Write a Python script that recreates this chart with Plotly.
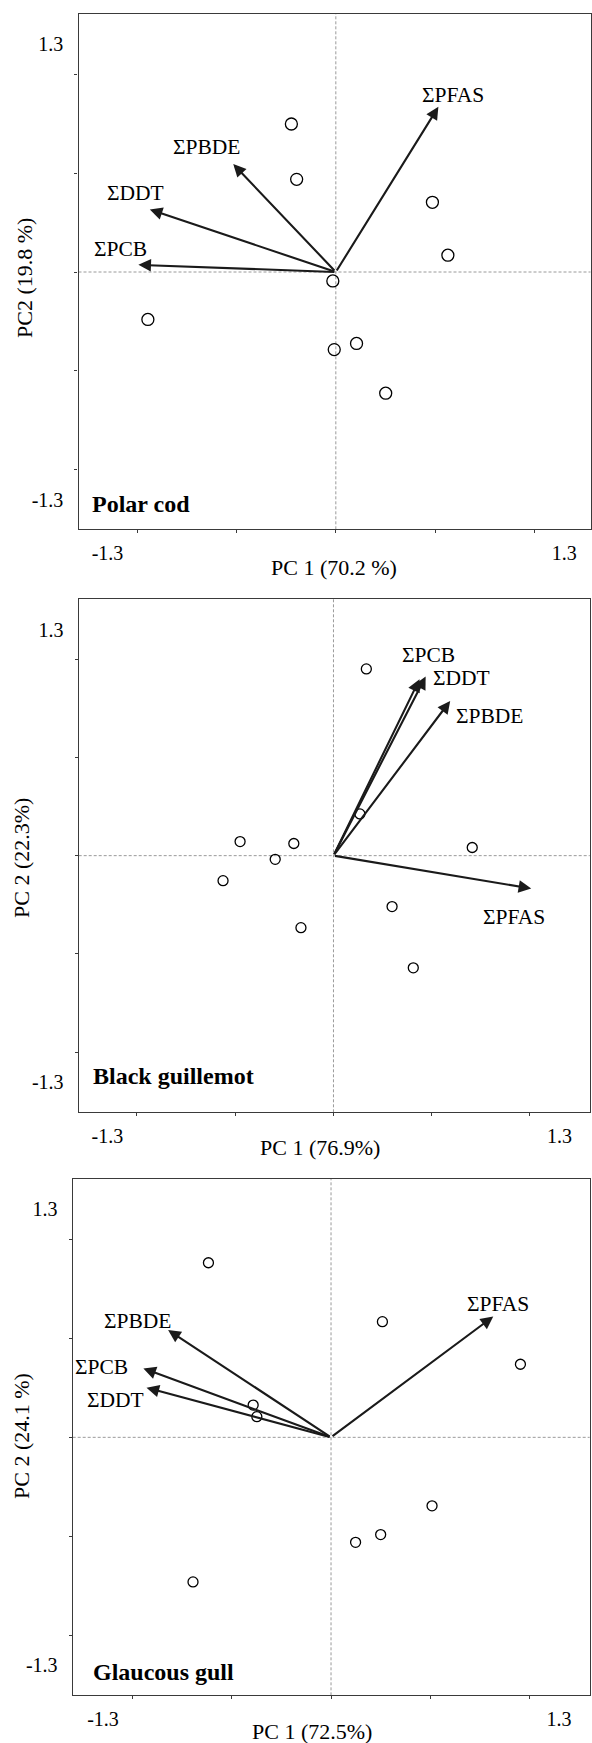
import plotly.graph_objects as go

# ---------------- data ----------------
variables = ["ΣPCB", "ΣDDT", "ΣPBDE", "ΣPFAS"]
tick_labels = ["-1.3", "1.3"]
tick_label_vals = [-1.3, 1.3]
minor_tick_vals = [-1.13, -0.565, 0.0, 0.565, 1.13]

# Polar cod
cod_pc1 = [-0.253, -0.223, 0.550, 0.638, -0.017, -1.070, -0.009, 0.118, 0.284]
cod_pc2 = [0.845, 0.529, 0.398, 0.096, -0.051, -0.271, -0.443, -0.408, -0.692]
cod_load_pc1 = [-1.124, -1.059, -0.584, 0.584]
cod_load_pc2 = [0.041, 0.357, 0.616, 0.943]

# Black guillemot
gui_pc1 = [0.189, 0.152, -0.537, -0.228, -0.335, -0.635, -0.187, 0.798, 0.337, 0.459]
gui_pc2 = [1.074, 0.240, 0.081, 0.070, -0.021, -0.144, -0.414, 0.047, -0.293, -0.645]
gui_load_pc1 = [0.495, 0.530, 0.671, 1.137]
gui_load_pc2 = [1.015, 1.030, 0.890, -0.189]

# Glaucous gull
gull_pc1 = [-0.699, 0.293, 1.080, -0.444, -0.423, 0.576, 0.283, 0.140, -0.787]
gull_pc2 = [0.996, 0.660, 0.417, 0.184, 0.118, -0.391, -0.555, -0.599, -0.825]
gull_load_pc1 = [-1.070, -1.052, -0.929, 0.925]
gull_load_pc2 = [0.393, 0.283, 0.612, 0.689]

panel_names = ["Polar cod", "Black guillemot", "Glaucous gull"]
x_titles = ["PC 1 (70.2 %)", "PC 1 (76.9%)", "PC 1 (72.5%)"]
y_titles = ["PC2 (19.8 %)", "PC 2 (22.3%)", "PC 2 (24.1 %)"]

# ---------------- layout helpers (positions/styles) ----------------
W, H = 592, 1743
FONT = "Liberation Serif"

panels = [
    dict(scores=(cod_pc1, cod_pc2), loads=(cod_load_pc1, cod_load_pc2),
         px=(78.5, 590.5), py=(14, 529.3), xr=(-1.465, 1.450), yr=(-1.469, 1.473),
         msize=12,
         lab={"ΣPCB": (-1.224, 0.129), "ΣDDT": (-1.143, 0.453),
              "ΣPBDE": (-0.735, 0.714), "ΣPFAS": (0.666, 1.010)},
         title_pos=(90, 504), xt_pos=(334, 568), yt_pos=(24, 278)),
    dict(scores=(gui_pc1, gui_pc2), loads=(gui_load_pc1, gui_load_pc2),
         px=(78.7, 589.8), py=(599, 1112.3), xr=(-1.465, 1.474), yr=(-1.476, 1.476),
         msize=10,
         lab={"ΣPCB": (0.546, 1.153), "ΣDDT": (0.734, 1.024),
              "ΣPBDE": (0.895, 0.803), "ΣPFAS": (1.039, -0.355)},
         title_pos=(90.7, 1076), xt_pos=(320, 1147), yt_pos=(21, 858)),
    dict(scores=(gull_pc1, gull_pc2), loads=(gull_load_pc1, gull_load_pc2),
         px=(72.7, 589.7), py=(1179, 1695.3), xr=(-1.473, 1.475), yr=(-1.472, 1.474),
         msize=10,
         lab={"ΣPCB": (-1.311, 0.404), "ΣDDT": (-1.231, 0.213),
              "ΣPBDE": (-1.102, 0.663), "ΣPFAS": (0.953, 0.761)},
         title_pos=(90.7, 1672), xt_pos=(312, 1731), yt_pos=(21, 1436)),
]

fig = go.Figure()
annotations = []
shapes = []

for i, p in enumerate(panels):
    n = "" if i == 0 else str(i + 1)
    xa, ya = "x" + n, "y" + n
    xaxis_key, yaxis_key = "xaxis" + n, "yaxis" + n

    fig.add_trace(go.Scatter(
        x=p["scores"][0], y=p["scores"][1], mode="markers",
        marker=dict(symbol="circle-open", size=p["msize"], color="black",
                    line=dict(width=1.3, color="black")),
        xaxis=xa, yaxis=ya, showlegend=False, hoverinfo="skip"))

    axis_common = dict(
        showgrid=False, zeroline=False, showline=True, mirror=True,
        linecolor="#3a3a3a", linewidth=1.3,
        tickmode="array", tickvals=tick_label_vals, ticktext=tick_labels,
        ticks="", tickfont=dict(family=FONT, size=20, color="black"),
        minor=dict(tickmode="array", tickvals=minor_tick_vals, ticks="outside",
                   ticklen=3, tickwidth=1, tickcolor="#3a3a3a"),
        fixedrange=True, automargin=False,
    )
    fig.update_layout({
        xaxis_key: dict(axis_common, domain=[p["px"][0] / W, p["px"][1] / W],
                        range=list(p["xr"]), anchor=ya, ticklabelstandoff=6),
        yaxis_key: dict(axis_common, domain=[1 - p["py"][1] / H, 1 - p["py"][0] / H],
                        range=list(p["yr"]), anchor=xa, ticklabelstandoff=10),
    })

    # dashed zero lines
    shapes.append(dict(type="line", xref=xa, yref=ya + " domain", x0=0, x1=0, y0=0, y1=1,
                       line=dict(color="#808080", width=0.8, dash="3px,2px"), layer="below"))
    shapes.append(dict(type="line", xref=xa + " domain", yref=ya, x0=0, x1=1, y0=0, y1=0,
                       line=dict(color="#808080", width=0.8, dash="3px,2px"), layer="below"))

    # loading arrows
    for v, lx, ly in zip(variables, p["loads"][0], p["loads"][1]):
        annotations.append(dict(
            x=lx, y=ly, ax=0, ay=0, xref=xa, yref=ya, axref=xa, ayref=ya,
            text="", showarrow=True, arrowhead=2, arrowsize=1.2, arrowwidth=2.1,
            arrowcolor="#1a1a1a", standoff=0, startstandoff=0))
        tx, ty = p["lab"][v]
        annotations.append(dict(
            x=tx, y=ty, xref=xa, yref=ya, text=v, showarrow=False,
            font=dict(family=FONT, size=21.5, color="black"),
            xanchor="center", yanchor="middle"))

    # panel title
    annotations.append(dict(
        x=p["title_pos"][0] / W, y=1 - p["title_pos"][1] / H, xref="paper", yref="paper",
        text="<b>" + panel_names[i] + "</b>", showarrow=False,
        font=dict(family=FONT, size=24, color="black"), xanchor="left", yanchor="middle"))
    # axis titles
    annotations.append(dict(
        x=p["xt_pos"][0] / W, y=1 - p["xt_pos"][1] / H, xref="paper", yref="paper",
        text=x_titles[i], showarrow=False,
        font=dict(family=FONT, size=22, color="black"), xanchor="center", yanchor="middle"))
    annotations.append(dict(
        x=p["yt_pos"][0] / W, y=1 - p["yt_pos"][1] / H, xref="paper", yref="paper",
        text=y_titles[i], showarrow=False, textangle=-90,
        font=dict(family=FONT, size=22, color="black"), xanchor="center", yanchor="middle"))

fig.update_layout(
    width=W, height=H, margin=dict(l=0, r=0, t=0, b=0),
    paper_bgcolor="white", plot_bgcolor="white",
    annotations=annotations, shapes=shapes, showlegend=False,
    font=dict(family=FONT, color="black"),
)

fig.write_html("out.html", config={"displayModeBar": False},
               post_script="document.body.style.margin='0';document.body.style.padding='0';")
